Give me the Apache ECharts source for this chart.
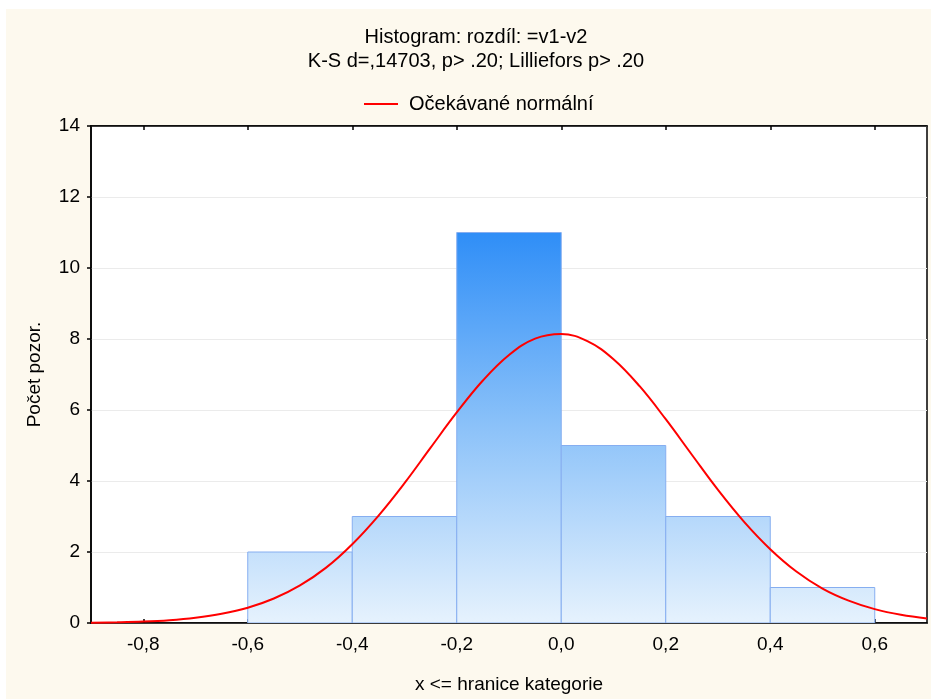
<!DOCTYPE html>
<html>
<head>
<meta charset="utf-8">
<script src="https://cdn.jsdelivr.net/npm/echarts@6/dist/echarts.min.js"></script>
<style>
html,body{margin:0;padding:0;background:#fff;}
#chart{width:931px;height:699px;}
</style>
</head>
<body>
<div id="chart"></div>
<script>
// ---- data ----
var titleLine1 = 'Histogram: rozdíl: =v1-v2';
var titleLine2 = 'K-S d=,14703, p> .20; Lilliefors p> .20';
var legendName = 'Očekávané normální';
var xAxisName = 'x <= hranice kategorie';
var yAxisName = 'Počet pozor.';
var binStarts = [-0.6, -0.4, -0.2, 0.0, 0.2, 0.4];
var binEnds   = [-0.4, -0.2,  0.0, 0.2, 0.4, 0.6];
var binCounts = [2, 3, 11, 5, 3, 1];
var xTicks = [-0.8, -0.6, -0.4, -0.2, 0.0, 0.2, 0.4, 0.6];
var curveX = [-0.9,-0.85,-0.8,-0.75,-0.7,-0.65,-0.6,-0.55,-0.5,-0.45,-0.4,-0.35,-0.3,-0.25,-0.2,-0.15,-0.1,-0.05,0,0.05,0.1,0.15,0.2,0.25,0.3,0.35,0.4,0.45,0.5,0.55,0.6,0.65,0.7];
var curveY = [0.01,0.02,0.04,0.08,0.15,0.26,0.43,0.69,1.06,1.56,2.22,3.02,3.94,4.94,5.93,6.83,7.55,8.01,8.14,7.94,7.43,6.67,5.74,4.74,3.75,2.85,2.08,1.45,0.97,0.63,0.39,0.23,0.13];

var histData = binStarts.map(function(s, i){ return [s, binEnds[i], binCounts[i]]; });
var curveData = curveX.map(function(x, i){ return [x, curveY[i]]; });
var maxCount = Math.max.apply(null, binCounts);

var chart = echarts.init(document.getElementById('chart'));
var FONT = "'Liberation Sans', Arial, Helvetica, sans-serif";
function fmt(v){ return v.toFixed(1).replace('.', ','); }

chart.setOption({
  backgroundColor: '#ffffff',
  animation: false,
  textStyle: { fontFamily: FONT, color: '#000' },
  graphic: [
    { type: 'rect', z: -10, silent: true, shape: { x: 6, y: 9, width: 925, height: 690 }, style: { fill: '#fdf9ee' } },
    { type: 'text', z: 10, style: { text: titleLine1, x: 476, y: 37, align: 'center', verticalAlign: 'middle', font: '20px ' + FONT, fill: '#000' } },
    { type: 'text', z: 10, style: { text: titleLine2, x: 476, y: 61, align: 'center', verticalAlign: 'middle', font: '20px ' + FONT, fill: '#000' } }
  ],
  legend: {
    data: [legendName],
    left: 359, top: 89,
    icon: 'rect', itemWidth: 34, itemHeight: 2,
    textStyle: { fontSize: 20, fontFamily: FONT, color: '#000', padding: [0, 0, 0, 6] }
  },
  grid: { left: 91, right: 4, top: 126, bottom: 76, show: true, backgroundColor: '#ffffff', borderColor: '#000', borderWidth: 1.5 },
  xAxis: [{
    type: 'value', min: -0.9, max: 0.7, position: 'bottom',
    name: xAxisName, nameLocation: 'middle', nameGap: 52,
    nameTextStyle: { fontSize: 19, color: '#000', fontFamily: FONT },
    axisLine: { onZero: false, lineStyle: { color: '#000', width: 1.5 } },
    axisTick: { show: true, inside: true, length: 4, customValues: xTicks, lineStyle: { color: '#000', width: 1.5 } },
    axisLabel: { customValues: xTicks, formatter: fmt, fontSize: 19, color: '#000', margin: 12, fontFamily: FONT },
    splitLine: { show: false }
  }, {
    type: 'value', min: -0.9, max: 0.7, position: 'top',
    axisLine: { onZero: false, lineStyle: { color: '#000', width: 1.5 } },
    axisTick: { show: true, inside: true, length: 4, customValues: xTicks, lineStyle: { color: '#000', width: 1.5 } },
    axisLabel: { show: false },
    splitLine: { show: false }
  }],
  yAxis: [{
    type: 'value', min: 0, max: 14, interval: 2, position: 'left',
    name: yAxisName, nameLocation: 'middle', nameGap: 47, nameRotate: 90,
    nameTextStyle: { fontSize: 19, color: '#000', fontFamily: FONT },
    axisLine: { show: true, onZero: false, lineStyle: { color: '#000', width: 1.5 } },
    axisTick: { show: true, length: 4, lineStyle: { color: '#000', width: 1.5 } },
    axisLabel: { fontSize: 19, color: '#000', margin: 11, fontFamily: FONT },
    splitLine: { show: true, lineStyle: { color: '#ebebeb', width: 1 } }
  }],
  series: [{
    type: 'custom',
    name: 'hist',
    z: 2,
    clip: true,
    data: histData,
    renderItem: function(params, api){
      var p0 = api.coord([api.value(0), api.value(2)]);
      var p1 = api.coord([api.value(1), 0]);
      var yTop = api.coord([0, maxCount])[1];
      var yBot = api.coord([0, 0])[1];
      var grad = new echarts.graphic.LinearGradient(0, yTop, 0, yBot, [
        { offset: 0, color: '#2f8ef7' },
        { offset: 0.5, color: '#8cc2f9' },
        { offset: 1, color: '#e6f2fd' }
      ], true);
      return {
        type: 'rect',
        shape: { x: p0[0], y: p0[1], width: p1[0] - p0[0], height: p1[1] - p0[1] },
        style: { fill: grad, stroke: '#86aef0', lineWidth: 1 }
      };
    }
  }, {
    type: 'line',
    name: legendName,
    z: 5,
    data: curveData,
    smooth: 0.4,
    symbol: 'none',
    lineStyle: { color: '#ff0000', width: 2 },
    itemStyle: { color: '#ff0000' }
  }]
});
</script>
</body>
</html>
